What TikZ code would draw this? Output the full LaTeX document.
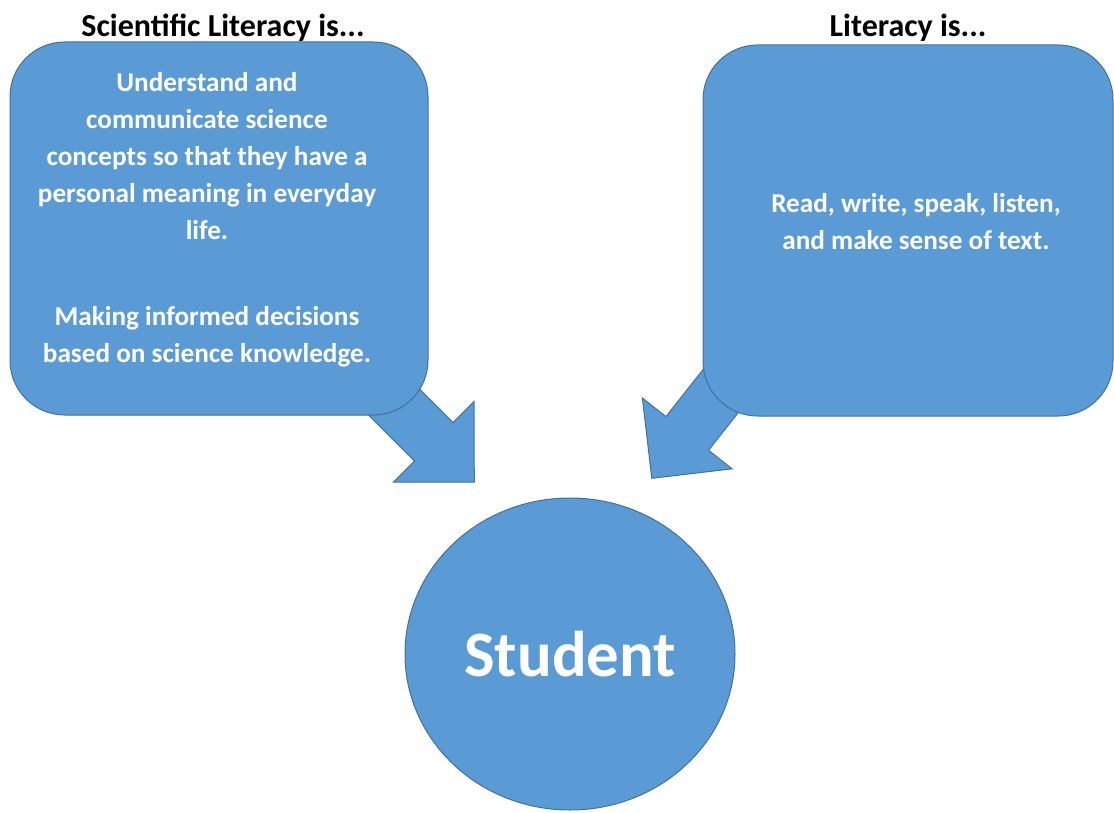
\documentclass[tikz,border=0pt]{standalone}
\usepackage{fontspec}
\setmainfont{Carlito}
\usetikzlibrary{shapes,arrows}
\definecolor{boxblue}{HTML}{5B9BD5}
\definecolor{edgeblue}{HTML}{41719C}

\begin{document}
\begin{tikzpicture}[x=0.75pt,y=-0.75pt,
	bluebox/.style={draw=edgeblue,fill=boxblue,line width=0.75pt,rounded corners=41pt,inner sep=0pt},
	bluetext/.style={text=white,font=\bfseries\fontsize{20.4}{27.75}\selectfont,align=center},
	headtext/.style={text=black,font=\bfseries\fontsize{24}{28}\selectfont},
	blockarrow/.style={single arrow,draw=edgeblue,fill=boxblue,line width=0.75pt,inner xsep=0pt,inner ysep=20pt,single arrow head extend=22.5pt,minimum height=135pt}]
\useasboundingbox (0,0) rectangle (1114,813);

\node[blockarrow,rotate=-45] (sciArrow) at (401,409) {};%left arrow
\node[blockarrow,rotate=-128.3] (litArrow) at (716,397) {};%right arrow

\node[bluebox,minimum width=313.5pt,minimum height=279.75pt] (sciBox) at (219,228.5) {};%left box
\node[bluebox,minimum width=307.5pt,minimum height=278.25pt] (litBox) at (908,230.5) {};%right box
\node[bluebox,ellipse,minimum width=247.5pt,minimum height=234pt,text=white,font=\bfseries\fontsize{48.5}{50}\selectfont] (student) at (570,654) {Student};%circle

\node[headtext] (sciHead) at (223,28) {Scientific Literacy is...};
\node[headtext] (litHead) at (908,28) {Literacy is...};

\node[bluetext] (sciText) at (207,220) {Understand and\\communicate science\\concepts so that they have a\\personal meaning in everyday\\life.\\[37pt]Making informed decisions\\based on science knowledge.};
\node[bluetext] (litText) at (916,222) {Read, write, speak, listen,\\and make sense of text.};

\end{tikzpicture}
\end{document}
